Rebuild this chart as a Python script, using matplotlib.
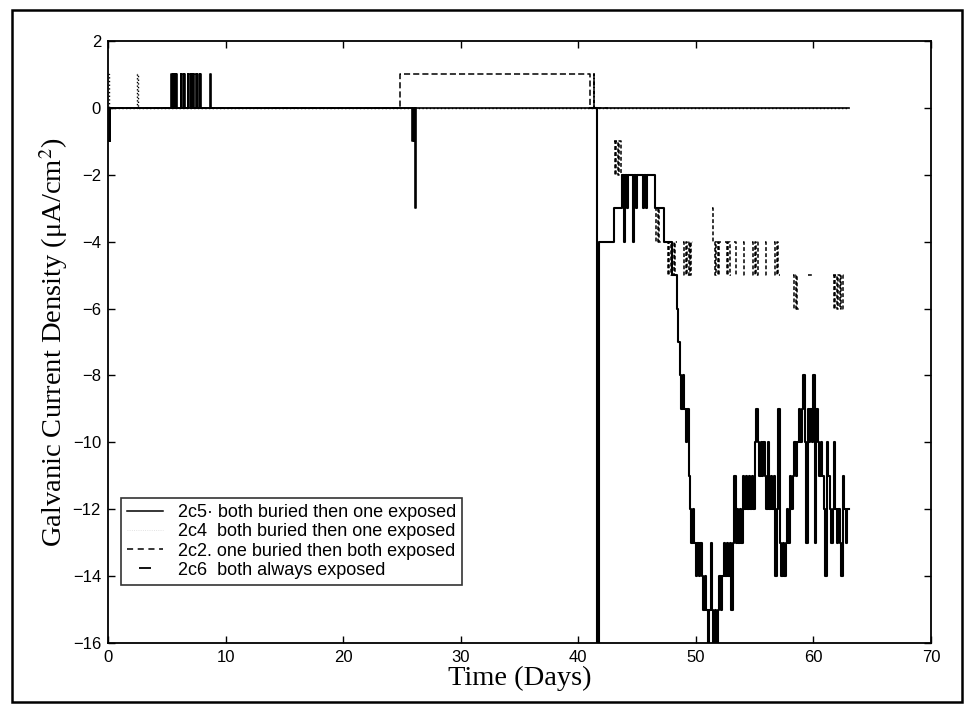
import numpy as np
import matplotlib.pyplot as plt
from matplotlib.lines import Line2D
from matplotlib.patches import Rectangle

nan = np.nan

# 2c5: step changes before exposure, then logged every 3 h (0.125 day) from day 41
c5_early_t = [0.0, 0.08, 0.13, 0.2, 25.85, 25.95, 26.0, 26.1, 26.15, 26.22]
c5_early_v = [-1, 0, -1, 0, -1, 0, -1, 0, -3, 0]
c5_start = 41.0
c5_step = 0.125
c5_late = [
    0, 0, 0, 0, 0, -17, -4, -4,              # 41
    -4, -4, -4, -4, -4, -4, -4, -4,          # 42
    -3, -3, -3, -3, -3, -3, -2, -4,          # 43
    -2, -3, -2, -2, -2, -4, -2, -3,          # 44
    -2, -2, -2, -2, -3, -2, -3, -2,          # 45
    -2, -2, -2, -2, -3, -3, -3, -3,          # 46
    -3, -3, -4, -4, -4, -4, -4, -4,          # 47
    -5, -5, -5, -6, -7, -8, -9, -8,          # 48
    -9, -10, -9, -11, -12, -13, -12, -13,    # 49
    -14, -13, -14, -13, -14, -15, -14, -15,  # 50
    -16, -15, -13, -15, -16, -15, -16, -15,  # 51
    -14, -15, -14, -13, -14, -13, -14, -13,  # 52
    -15, -13, -11, -13, -12, -13, -12, -13,  # 53
    -11, -12, -11, -12, -11, -12, -11, -12,  # 54
    -10, -9, -10, -11, -10, -11, -10, -11,   # 55
    -12, -10, -12, -11, -12, -11, -14, -12,  # 56
    -9, -13, -14, -13, -14, -13, -12, -13,   # 57
    -11, -12, -11, -10, -11, -10, -9, -10,   # 58
    -9, -8, -10, -13, -9, -10, -9, -10,      # 59
    -8, -13, -9, -10, -11, -10, -11, -12,    # 60
    -14, -10, -11, -12, -13, -12, -10, -12,  # 61
    -13, -12, -13, -14, -11, -12, -13, -12,  # 62
    -12,                                      # 63
]

# 2c4: dotted, mostly zero
c4_t = [0.0, 0.12, 2.45, 2.55, 63.0]
c4_v = [1, 0, 1, 0, 0]

# 2c2: dashed
c2_early_t = [0.0, 24.8, 41.0, 41.3, 41.35, 42.5]
c2_early_v = [0, 1, 0, 1, 0, 0]
c2_start = 43.0
c2_step = 0.125
c2_late = [
    -1, -2, -1, -2, -1, -2, nan, nan,        # 43
    nan, nan, nan, nan, nan, nan, nan, nan,  # 44
    nan, nan, nan, nan, nan, nan, nan, nan,  # 45
    nan, nan, nan, nan, -3, -4, -3, -4,      # 46
    nan, nan, nan, nan, -4, -5, -4, -5,      # 47
    -4, -5, -4, nan, nan, nan, nan, -4,      # 48
    -5, -4, -5, -4, -5, -4, nan, nan,        # 49
    nan, nan, nan, nan, nan, nan, nan, nan,  # 50
    nan, nan, nan, -3, -4, -5, -4, -5,       # 51
    -4, nan, nan, nan, -4, -5, -4, -5,       # 52
    nan, nan, -4, -5, nan, nan, nan, nan,    # 53
    -4, -5, nan, nan, nan, nan, -4, -5,      # 54
    -4, -5, -4, nan, nan, nan, nan, -4,      # 55
    -5, nan, nan, nan, nan, -4, -5, -4,      # 56
    -5, nan, nan, nan, nan, nan, nan, nan,   # 57
    nan, nan, -5, -6, -5, -6, nan, nan,      # 58
    nan, nan, nan, nan, -5, -5, -5, nan,     # 59
    nan, nan, nan, nan, nan, nan, nan, nan,  # 60
    nan, nan, nan, nan, nan, -5, -6, -5,     # 61
    -6, -5, -6, -5, -6, nan, nan, nan,       # 62
]

# 2c6: solid, zero with early bursts
c6_t = [0.0, 5.40, 5.45, 5.50, 5.55, 5.60, 5.65, 5.70, 5.75, 5.80, 5.85,
        6.20, 6.24, 6.27, 6.46, 6.49, 6.52,
        6.80, 6.84, 6.87, 7.06, 7.09, 7.12,
        7.20, 7.24, 7.28, 7.50, 7.54, 7.60,
        7.75, 7.80, 7.84, 7.90, 8.65, 8.72, 63.0]
c6_v = [0, 1, 0, 1, 0, 1, 0, 1, 0, 1, 0,
        1, 0, 1, 0, 1, 0,
        1, 0, 1, 0, 1, 0,
        1, 0, 1, 0, 1, 0,
        1, 0, 1, 0, 1, 0, 0]

labels = ['2c5\u00b7 both buried then one exposed',
          '2c4  both buried then one exposed',
          '2c2. one buried then both exposed',
          '2c6  both always exposed']


plt.rcParams['font.family'] = 'Liberation Sans'
plt.rcParams['mathtext.fontset'] = 'stix'

fig = plt.figure(figsize=(9.72, 7.12), dpi=100)
W, H = 972, 712
ax = fig.add_axes([108 / W, 1 - 643 / H, (931 - 108) / W, (643 - 41) / H])

c5_lt = c5_start + c5_step * np.arange(len(c5_late))

ax.plot(c5_early_t, c5_early_v, color='k', lw=1.2, drawstyle='steps-post')
ax.plot(c5_lt, c5_late, color='k', lw=1.5, drawstyle='steps-post')
ax.plot(c4_t, c4_v, color='k', lw=1.0, ls=':', drawstyle='steps-post')
ax.plot(c2_early_t, c2_early_v, color='k', lw=1.1, ls=(0, (4, 2)), drawstyle='steps-post')
ax.plot(c2_start + c2_step * np.arange(len(c2_late)), c2_late, color='k', lw=1.1,
        ls=(0, (2.5, 1.5)), drawstyle='steps-post')
ax.plot(c6_t, c6_v, color='k', lw=1.2, drawstyle='steps-post')

ax.set_xlim(0, 70)
ax.set_ylim(-16, 2)
ax.set_xticks(range(0, 71, 10))
ax.set_yticks(range(-16, 3, 2))
ax.tick_params(direction='in', length=5, width=1, top=True, right=True,
               labelsize=12, pad=5, colors='k')
for s in ax.spines.values():
    s.set_linewidth(1.3)

ax.set_xlabel('Time (Days)', family='Liberation Serif', fontsize=20.5, labelpad=1)
ax.set_ylabel('Galvanic Current Density (\u03bcA/cm$^2$)', family='Liberation Serif',
              fontsize=20.5, labelpad=2)

handles = [Line2D([], [], color='k', lw=1.1),
           Line2D([], [], color='#d8d8d8', lw=0.6, ls=':'),
           Line2D([], [], color='k', lw=1.1, ls=(0, (4, 3))),
           Line2D([], [], color='k', ls='none', marker='_', markersize=8, mew=1.3)]
leg = ax.legend(handles, labels, loc='lower left',
                bbox_to_anchor=(121 / W, 1 - 585 / H), bbox_transform=fig.transFigure,
                borderaxespad=0, fontsize=13, frameon=True, fancybox=False,
                handlelength=2.0, handletextpad=0.8, labelspacing=0.12,
                borderpad=0.35)
leg.get_frame().set_edgecolor('k')
leg.get_frame().set_linewidth(1.2)

fig.patches.append(Rectangle((12 / W, 1 - 702 / H), (962 - 12) / W, (702 - 10) / H,
                             transform=fig.transFigure, fill=False, lw=1.8, ec='k'))

fig.savefig('out.png', dpi=100)
